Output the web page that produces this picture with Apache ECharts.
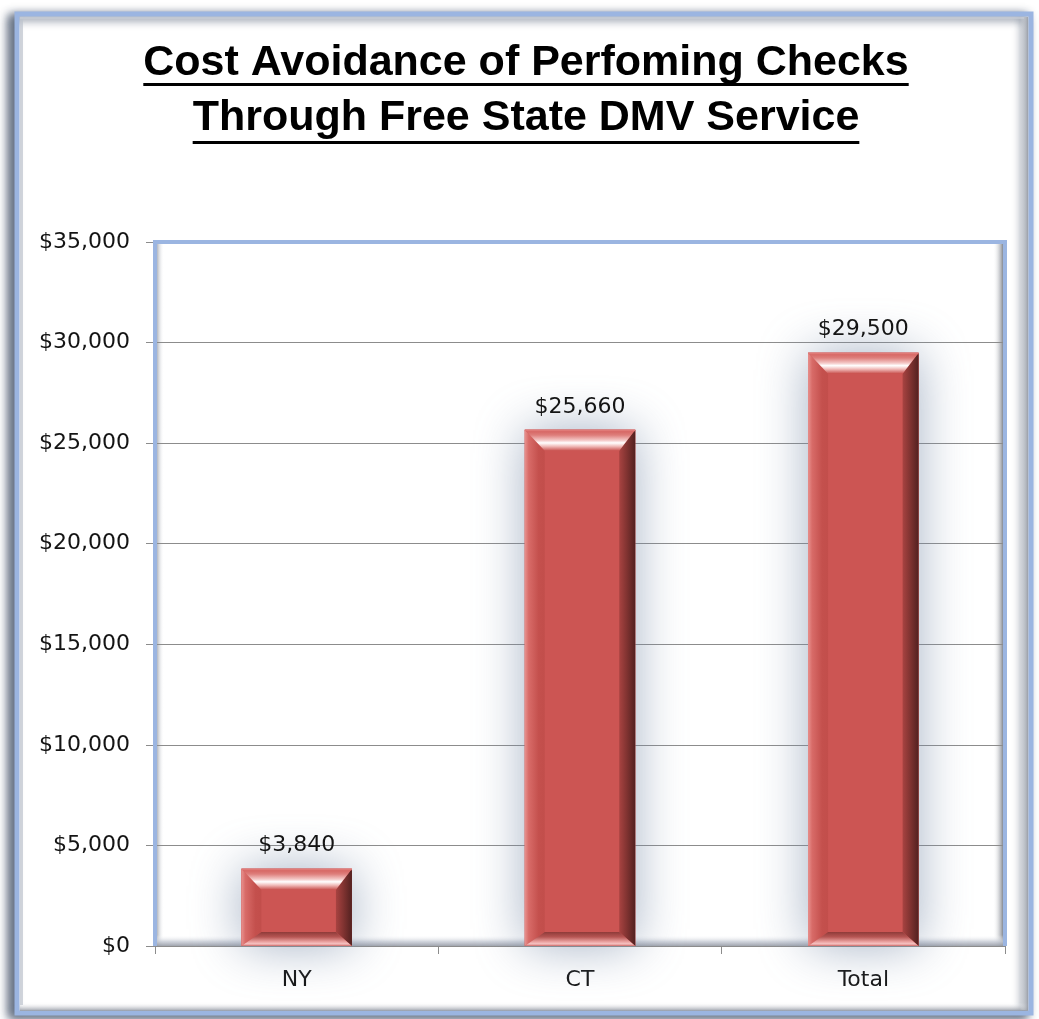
<!DOCTYPE html>
<html><head><meta charset="utf-8">
<script src="https://cdn.jsdelivr.net/npm/echarts@6/dist/echarts.min.js"></script>
<style>html,body{margin:0;padding:0;background:#fff}#c{width:1039px;height:1019px}</style>
</head><body><div id="c"></div><script>
const categories = ['NY', 'CT', 'Total'];
const values = [3840, 25660, 29500];
const titleLines = ['Cost Avoidance of Perfoming Checks', 'Through Free State DMV Service'];
const yMin = 0, yMax = 35000, yStep = 5000;

const fmt = v => '$' + Number(v).toLocaleString('en-US');
const TITLE_FONT = 'bold 43px "Liberation Sans"';
const LABEL_FONT = '"DejaVu Sans"';

const cv = document.createElement('canvas').getContext('2d');
cv.font = TITLE_FONT;
const tw = titleLines.map(t => cv.measureText(t).width);
const cx = 526;

const G = {left: 155, right: 34, top: 242, bottom: 73};
const W = 1039, H = 1019;
const pr = W - G.right, pb = H - G.bottom;

const chart = echarts.init(document.getElementById('c'), null, {renderer: 'canvas'});

function lg(x, y, x2, y2, stops) {
  return new echarts.graphic.LinearGradient(x, y, x2, y2, stops.map(c => ({offset: c[0], color: c[1]})));
}

function renderItem(params, api) {
  const top = api.coord([api.value(0), api.value(1)]);
  const base = api.coord([api.value(0), 0]);
  const bw = api.size([1, 0])[0] * 0.39;
  const x0 = top[0] - bw / 2, x1 = top[0] + bw / 2, y0 = top[1], y1 = base[1];
  const h = y1 - y0;
  const bt = Math.min(21, h * 0.3), bl = 20, br = 16, bb = Math.min(14, h * 0.2);
  return {
    type: 'group',
    children: [
      {type: 'rect', shape: {x: x0, y: y0, width: bw, height: h},
        style: {fill: '#CD5552', shadowBlur: 50, shadowColor: 'rgba(115,135,165,0.65)'}},
      {type: 'rect', shape: {x: x0, y: y0, width: bw, height: h},
        style: {fill: '#CC5553'}},
      {type: 'polygon', shape: {points: [[x0, y0], [x0 + bl, y0 + bt], [x0 + bl, y1 - bb], [x0, y1]]},
        style: {fill: lg(0, 0, 1, 0, [[0, '#E8928F'], [0.2, '#D86B68'], [0.7, '#C4504D'], [1, '#C24E4B']])}},
      {type: 'polygon', shape: {points: [[x1, y0], [x1 - br, y0 + bt], [x1 - br, y1 - bb], [x1, y1]]},
        style: {fill: lg(0, 0, 1, 0, [[0, '#A84341'], [0.5, '#7E3230'], [1, '#522120']])}},
      {type: 'polygon', shape: {points: [[x0, y1], [x0 + bl, y1 - bb], [x1 - br, y1 - bb], [x1, y1]]},
        style: {fill: lg(0, 0, 0, 1, [[0, '#8E3B39'], [0.35, '#B65553'], [0.7, '#EBA3A1'], [0.85, '#F5C3C2'], [1, '#CE6765']])}},
      {type: 'polygon', shape: {points: [[x0, y0], [x1, y0], [x1 - br, y0 + bt], [x0 + bl, y0 + bt]]},
        style: {fill: lg(0, 0, 0, 1, [[0, '#D35D5A'], [0.25, '#DE7E7B'], [0.5, '#F4C9C8'], [0.62, '#FFFFFF'], [0.78, '#F1BDBB'], [1, '#C9524F']])}},
      {type: 'rect', shape: {x: x0, y: y0, width: bw, height: 1.5}, style: {fill: '#E07A77'}},
      {type: 'text', x: top[0], y: y0 - 12,
        style: {text: fmt(api.value(1)), fontFamily: LABEL_FONT, fontSize: 22, fill: '#141414',
          align: 'center', verticalAlign: 'bottom'}}
    ]
  };
}

const graphics = [
  // outer frame
  {type: 'rect', z: -20, shape: {x: 17, y: 14, width: 1014, height: 999},
    style: {fill: '#fff', stroke: '#9BB5E1', lineWidth: 5, shadowBlur: 10, shadowOffsetX: -6, shadowOffsetY: 3, shadowColor: 'rgba(55,70,95,0.85)'}},
  {type: 'rect', z: -19, shape: {x: 20, y: 1003, width: 1008, height: 8},
    style: {fill: lg(0, 0, 0, 1, [[0, 'rgba(255,255,255,0)'], [1, 'rgba(145,150,160,0.85)']])}},
  {type: 'rect', z: -19, shape: {x: 1020, y: 17, width: 8, height: 993},
    style: {fill: lg(0, 0, 1, 0, [[0, 'rgba(255,255,255,0)'], [1, 'rgba(145,150,160,0.85)']])}},
  {type: 'rect', z: -19, shape: {x: 20, y: 17, width: 3, height: 988}, style: {fill: 'rgba(190,195,205,0.7)'}},
  {type: 'rect', z: -19, shape: {x: 20, y: 17, width: 1004, height: 2}, style: {fill: 'rgba(200,205,215,0.6)'}},
  // plot inner shading
  {type: 'rect', z: -5, shape: {x: G.left + 2, y: G.top + 2, width: 7, height: pb - G.top - 2},
    style: {fill: lg(0, 0, 1, 0, [[0, 'rgba(160,165,175,0.8)'], [1, 'rgba(255,255,255,0)']])}},
  {type: 'rect', z: -5, shape: {x: pr - 12, y: G.top + 2, width: 10, height: pb - G.top - 2},
    style: {fill: lg(0, 0, 1, 0, [[0, 'rgba(255,255,255,0)'], [1, 'rgba(120,125,135,0.9)']])}},
  {type: 'rect', z: -5, shape: {x: G.left + 2, y: pb - 11, width: pr - G.left - 4, height: 11},
    style: {fill: lg(0, 0, 0, 1, [[0, 'rgba(255,255,255,0)'], [0.6, 'rgba(195,200,210,0.8)'], [1, 'rgba(150,155,165,0.9)']])}},
  // plot blue frame (top, left, right)
  {type: 'polyline', z: 5, shape: {points: [[G.left, pb], [G.left, G.top], [pr, G.top], [pr, pb]]},
    style: {stroke: '#9BB5E1', lineWidth: 4, fill: null}},
  // title
  {type: 'text', z: 10, x: cx, y: 63, style: {text: titleLines[0], font: TITLE_FONT, fill: '#000', align: 'center', verticalAlign: 'middle'}},
  {type: 'text', z: 10, x: cx, y: 118, style: {text: titleLines[1], font: TITLE_FONT, fill: '#000', align: 'center', verticalAlign: 'middle'}},
  {type: 'rect', z: 10, shape: {x: cx - tw[0] / 2, y: 83, width: tw[0], height: 3}, style: {fill: '#000'}},
  {type: 'rect', z: 10, shape: {x: cx - tw[1] / 2, y: 141, width: tw[1], height: 3}, style: {fill: '#000'}}
];

chart.setOption({
  animation: false,
  backgroundColor: '#fff',
  grid: {left: G.left, right: G.right, top: G.top, bottom: G.bottom, containLabel: false},
  xAxis: {
    type: 'category', data: categories, boundaryGap: true,
    axisLine: {show: true, lineStyle: {color: '#8C8C8C', width: 1}},
    axisTick: {show: true, length: 8, alignWithLabel: false, lineStyle: {color: '#8C8C8C'}},
    axisLabel: {margin: 23, fontFamily: LABEL_FONT, fontSize: 22, color: '#141414'},
    splitLine: {show: false}
  },
  yAxis: {
    type: 'value', min: yMin, max: yMax, interval: yStep,
    axisLine: {show: true, lineStyle: {color: '#8C8C8C', width: 1}},
    axisTick: {show: true, length: 9, lineStyle: {color: '#8C8C8C'}},
    axisLabel: {margin: 25, fontFamily: LABEL_FONT, fontSize: 22, color: '#141414', formatter: fmt},
    splitLine: {show: true, lineStyle: {color: '#8C8C8C', width: 1}}
  },
  graphic: graphics,
  series: [{
    type: 'custom', renderItem: renderItem, clip: false,
    encode: {x: 0, y: 1},
    data: values.map((v, i) => [categories[i], v])
  }]
});
</script></body></html>
